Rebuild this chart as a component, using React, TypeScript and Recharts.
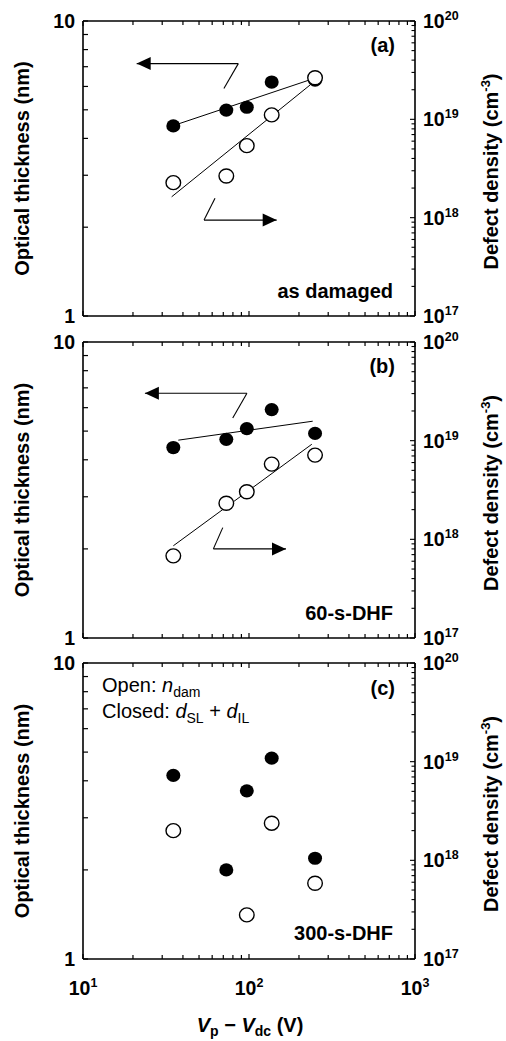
import React from "react";
import { ComposedChart, XAxis, YAxis, Scatter, ReferenceLine, ReferenceDot } from "recharts";

const FONT = '"Liberation Sans", Arial, Helvetica, sans-serif';

// ---------- axis ticks ----------
const voltageTicks = [10, 20, 30, 40, 50, 60, 70, 80, 90, 100, 200, 300, 400, 500, 600, 700, 800, 900, 1000];
const thicknessTicks = [1, 2, 3, 4, 5, 6, 7, 8, 9, 10];
const densityTicks = [
  1e17, 2e17, 3e17, 4e17, 5e17, 6e17, 7e17, 8e17, 9e17,
  1e18, 2e18, 3e18, 4e18, 5e18, 6e18, 7e18, 8e18, 9e18,
  1e19, 2e19, 3e19, 4e19, 5e19, 6e19, 7e19, 8e19, 9e19,
  1e20,
];
const voltageTickLabels: Record<number, string> = { 10: "1", 100: "2", 1000: "3" };
const thicknessTickLabels: Record<number, string> = { 1: "1", 10: "10" };
const densityTickLabels: Record<number, string> = { 1e17: "17", 1e18: "18", 1e19: "19", 1e20: "20" };

// ---------- data ----------
const voltages = [35, 73, 97, 137, 250];

// (a) as damaged
const thicknessA = [4.41, 4.99, 5.1, 6.21, 6.3];
const densityA = [2.27e18, 2.65e18, 5.4e18, 1.11e19, 2.65e19];
const fitThicknessA = [{ x: 35, y: 4.42 }, { x: 239, y: 6.35 }];
const fitDensityA = [{ x: 34.2, y: 1.63e18 }, { x: 233, y: 2.23e19 }];
const arrowLeftA = [{ x: 70.6, y: 5.9 }, { x: 86.2, y: 7.17 }, { x: 21.06, y: 7.17 }];
const arrowRightA = [{ x: 62.4, y: 2.505 }, { x: 53.6, y: 2.114 }, { x: 146.8, y: 2.114 }];

// (b) 60-s-DHF
const thicknessB = [4.4, 4.69, 5.1, 5.91, 4.91];
const densityB = [6.8e17, 2.32e18, 3.04e18, 5.79e18, 7.14e18];
const fitThicknessB = [{ x: 37.5, y: 4.66 }, { x: 242, y: 5.4 }];
const fitDensityB = [{ x: 35, y: 8.6e17 }, { x: 239, y: 9.2e18 }];
const arrowLeftB = [{ x: 79.8, y: 5.54 }, { x: 97.2, y: 6.71 }, { x: 23.6, y: 6.71 }];
const arrowRightB = [{ x: 69.5, y: 2.36 }, { x: 61.0, y: 2.0 }, { x: 167, y: 2.0 }];

// (c) 300-s-DHF
const thicknessC = [4.17, 2.0, 3.7, 4.77, 2.19];
const voltagesOpenC = [35, 97, 137, 250];
const densityC = [2.0e18, 2.8e17, 2.38e18, 5.86e17];

type Pt = { x: number; y: number };
const toPts = (xs: number[], ys: number[]): Pt[] => xs.map((x, i) => ({ x, y: ys[i] }));

const isMajor = (v: number) => Math.abs(Math.log10(v) - Math.round(Math.log10(v))) < 1e-6;

// ---------- tick renderers ----------
const BottomTick = (props: any) => {
  const { x, y, payload, showLabel } = props;
  const v = payload.value;
  const major = isMajor(v);
  return (
    <g>
      <line x1={x} x2={x} y1={y} y2={y - (major ? 5 : 4)} stroke="#000" strokeWidth={1.2} />
      {showLabel && voltageTickLabels[v] && (
        <text x={x} y={y + 36} textAnchor="middle" fontFamily={FONT} fontWeight="bold" fontSize={19.5} fill="#000">
          10
          <tspan dy={-8} fontSize={12.5}>{voltageTickLabels[v]}</tspan>
        </text>
      )}
    </g>
  );
};

const TopTick = (props: any) => {
  const { x, y, payload } = props;
  const major = isMajor(payload.value);
  return <line x1={x} x2={x} y1={y} y2={y + (major ? 5 : 4)} stroke="#000" strokeWidth={1.2} />;
};

const LeftTick = (props: any) => {
  const { x, y, payload } = props;
  const v = payload.value;
  return (
    <g>
      <line x1={x} x2={x + 5} y1={y} y2={y} stroke="#000" strokeWidth={1.2} />
      {thicknessTickLabels[v] && (
        <text x={x - 8} y={y + 7} textAnchor="end" fontFamily={FONT} fontWeight="bold" fontSize={19.5} fill="#000">
          {thicknessTickLabels[v]}
        </text>
      )}
    </g>
  );
};

const RightTick = (props: any) => {
  const { x, y, payload } = props;
  const v = payload.value;
  const major = isMajor(v);
  return (
    <g>
      <line x1={x} x2={x - (major ? 5 : 3.5)} y1={y} y2={y} stroke="#000" strokeWidth={1.1} />
      {major && densityTickLabels[v] && (
        <text x={x + 8} y={y + 7} textAnchor="start" fontFamily={FONT} fontWeight="bold" fontSize={19.5} fill="#000">
          10
          <tspan dy={-8} fontSize={12.5}>{densityTickLabels[v]}</tspan>
        </text>
      )}
    </g>
  );
};

// ---------- marks ----------
const FilledDot = (props: any) => <ellipse cx={props.cx} cy={props.cy} rx={7} ry={6.6} fill="#000" />;
const OpenDot = (props: any) => (
  <ellipse cx={props.cx} cy={props.cy} rx={7.3} ry={7} fill="#fff" stroke="#000" strokeWidth={1.4} />
);

const headShape = (dir: "left" | "right") => (p: any) => {
  const { cx, cy } = p;
  const s = dir === "left" ? 1 : -1;
  const L = 14;
  const W = 6.5;
  return <polygon points={`${cx},${cy} ${cx + s * L},${cy - W} ${cx + s * L},${cy + W}`} fill="#000" />;
};

const axisLineStyle = { stroke: "#000", strokeWidth: 1.6 };

type PanelProps = {
  plotTop: number;
  plotH: number;
  filled: Pt[];
  open: Pt[];
  fits?: { pts: Pt[]; axis: "l" | "r" }[];
  arrows?: { pts: Pt[]; dir: "left" | "right" }[];
  showXLabels?: boolean;
  extraBottom?: number;
};

function Panel({ plotTop, plotH, filled, open, fits = [], arrows = [], showXLabels = false, extraBottom = 0 }: PanelProps) {
  const H = plotH + 40 + extraBottom;
  const mb = H - 20 - plotH - 1;
  return (
    <div style={{ position: "absolute", left: 0, top: plotTop - 20, width: 506, height: H }}>
      <ComposedChart width={506} height={H} margin={{ top: 19, right: 0, bottom: mb, left: 0 }}>
        <XAxis
          xAxisId="b"
          dataKey="x"
          type="number"
          scale="log"
          domain={[10, 1000]}
          allowDataOverflow
          ticks={voltageTicks}
          interval={0}
          height={1}
          tickSize={0}
          tickMargin={0}
          tickLine={false}
          axisLine={axisLineStyle}
          tick={(p: any) => <BottomTick {...p} showLabel={showXLabels} />}
        />
        <XAxis
          xAxisId="t"
          orientation="top"
          dataKey="x"
          type="number"
          scale="log"
          domain={[10, 1000]}
          allowDataOverflow
          ticks={voltageTicks}
          interval={0}
          height={1}
          tickSize={0}
          tickMargin={0}
          tickLine={false}
          axisLine={axisLineStyle}
          tick={(p: any) => <TopTick {...p} />}
        />
        <YAxis
          yAxisId="l"
          dataKey="y"
          type="number"
          scale="log"
          domain={[1, 10]}
          allowDataOverflow
          ticks={thicknessTicks}
          interval={0}
          width={83}
          tickSize={0}
          tickMargin={0}
          tickLine={false}
          axisLine={axisLineStyle}
          tick={(p: any) => <LeftTick {...p} />}
        />
        <YAxis
          yAxisId="r"
          orientation="right"
          dataKey="y"
          type="number"
          scale="log"
          domain={[1e17, 1e20]}
          allowDataOverflow
          ticks={densityTicks}
          interval={0}
          width={91}
          tickSize={0}
          tickMargin={0}
          tickLine={false}
          axisLine={axisLineStyle}
          tick={(p: any) => <RightTick {...p} />}
        />
        {fits.map((f, i) => (
          <ReferenceLine
            key={"fit" + i}
            xAxisId="b"
            yAxisId={f.axis}
            segment={f.pts as any}
            stroke="#000"
            strokeWidth={1}
            ifOverflow="visible"
          />
        ))}
        {arrows.map((a, i) =>
          a.pts.slice(1).map((p, j) => (
            <ReferenceLine
              key={"arr" + i + "-" + j}
              xAxisId="b"
              yAxisId="l"
              segment={[a.pts[j], p] as any}
              stroke="#000"
              strokeWidth={1.1}
              ifOverflow="visible"
            />
          ))
        )}
        {arrows.map((a, i) => (
          <ReferenceDot
            key={"head" + i}
            xAxisId="b"
            yAxisId="l"
            x={a.pts[a.pts.length - 1].x}
            y={a.pts[a.pts.length - 1].y}
            r={1}
            ifOverflow="visible"
            shape={headShape(a.dir)}
          />
        ))}
        <Scatter xAxisId="b" yAxisId="l" data={filled} shape={FilledDot} isAnimationActive={false} />
        <Scatter xAxisId="b" yAxisId="r" data={open} shape={OpenDot} isAnimationActive={false} />
      </ComposedChart>
    </div>
  );
}

const panelTops = [21, 342, 663];
const panelHeights = [295, 296, 296];
const panelLetters = ["(a)", "(b)", "(c)"];
const panelConditions = ["as damaged", "60-s-DHF", "300-s-DHF"];

function Overlay() {
  const t = { fontFamily: FONT, fontWeight: "bold" as const, fontSize: 20, fill: "#000" };
  return (
    <svg width={506} height={1041} style={{ position: "absolute", left: 0, top: 0, pointerEvents: "none" }}>
      {panelTops.map((top, i) => {
        const cy = top + panelHeights[i] / 2;
        return (
          <g key={i}>
            <text {...t} transform={`translate(29, ${cy}) rotate(-90)`} textAnchor="middle">
              Optical thickness (nm)
            </text>
            <text {...t} transform={`translate(498, ${cy + 3}) rotate(-90)`} textAnchor="middle">
              Defect density (cm
              <tspan dy={-8} fontSize={13}>-3</tspan>
              <tspan dy={8}>)</tspan>
            </text>
            <text {...t} x={395} y={top + 31 + (i === 2 ? 1 : 0)} textAnchor="end">
              {panelLetters[i]}
            </text>
            <text {...t} x={393} y={top + panelHeights[i] - 18 - (i === 2 ? 1 : 0)} textAnchor="end">
              {panelConditions[i]}
            </text>
          </g>
        );
      })}
      <text fontFamily={FONT} fontSize={20} fill="#000" x={102} y={692}>
        Open: <tspan fontStyle="italic">n</tspan>
        <tspan dy={5} fontSize={14}>dam</tspan>
      </text>
      <text fontFamily={FONT} fontSize={20} fill="#000" x={102} y={718}>
        Closed: <tspan fontStyle="italic">d</tspan>
        <tspan dy={5} fontSize={14}>SL</tspan>
        <tspan dy={-5}> + </tspan>
        <tspan fontStyle="italic">d</tspan>
        <tspan dy={5} fontSize={14}>IL</tspan>
      </text>
      <text {...t} x={250} y={1032} textAnchor="middle">
        <tspan fontStyle="italic">V</tspan>
        <tspan dy={4} fontSize={14}>p</tspan>
        <tspan dy={-4}> − </tspan>
        <tspan fontStyle="italic">V</tspan>
        <tspan dy={4} fontSize={14}>dc</tspan>
        <tspan dy={-4}> (V)</tspan>
      </text>
    </svg>
  );
}

export default function App() {
  return (
    <div style={{ position: "absolute", left: 0, top: 0, width: 506, height: 1041, background: "#fff" }}>
      <Panel
        plotTop={panelTops[0]}
        plotH={panelHeights[0]}
        filled={toPts(voltages, thicknessA)}
        open={toPts(voltages, densityA)}
        fits={[{ pts: fitThicknessA, axis: "l" }, { pts: fitDensityA, axis: "r" }]}
        arrows={[{ pts: arrowLeftA, dir: "left" }, { pts: arrowRightA, dir: "right" }]}
      />
      <Panel
        plotTop={panelTops[1]}
        plotH={panelHeights[1]}
        filled={toPts(voltages, thicknessB)}
        open={toPts(voltages, densityB)}
        fits={[{ pts: fitThicknessB, axis: "l" }, { pts: fitDensityB, axis: "r" }]}
        arrows={[{ pts: arrowLeftB, dir: "left" }, { pts: arrowRightB, dir: "right" }]}
      />
      <Panel
        plotTop={panelTops[2]}
        plotH={panelHeights[2]}
        filled={toPts(voltages, thicknessC)}
        open={toPts(voltagesOpenC, densityC)}
        showXLabels
        extraBottom={50}
      />
      <Overlay />
    </div>
  );
}
